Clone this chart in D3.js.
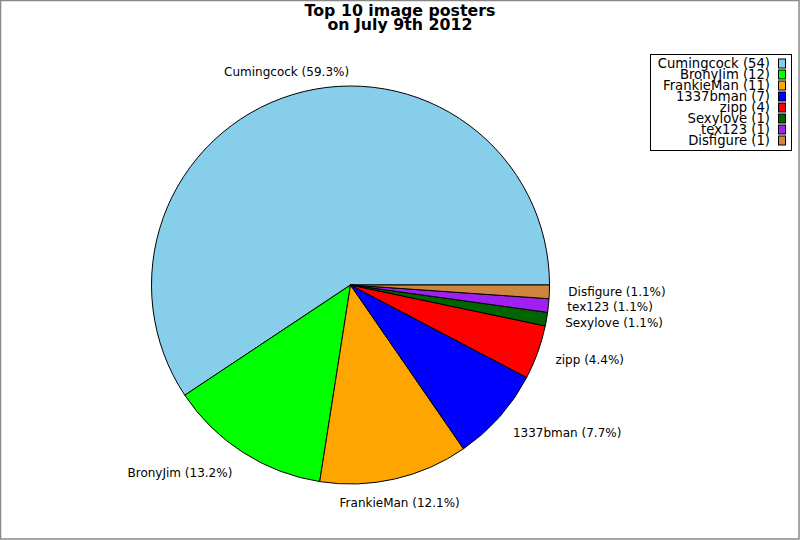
<!DOCTYPE html>
<html>
<head>
<meta charset="utf-8">
<script src="https://cdn.jsdelivr.net/npm/d3@7"></script>
<style>
  body { margin: 0; background: #fff; }
  text { font-family: "DejaVu Sans", sans-serif; }
</style>
</head>
<body>
<div id="chart"></div>
<script>
// chart data
var titleLines = ["Top 10 image posters", "on July 9th 2012"];
var names = ["Cumingcock", "BronyJim", "FrankieMan", "1337bman", "zipp", "Sexylove", "tex123", "Disfigure"];
var counts = [54, 12, 11, 7, 4, 1, 1, 1];
var colors = ["#87ceeb", "#00ff00", "#ffa500", "#0000ff", "#ff0000", "#006400", "#a020f0", "#cd853f"];

var W = 800, H = 540;
var cx = 350.5, cy = 285, radius = 199;

var svg = d3.select("#chart")
    .append("svg")
    .attr("width", W)
    .attr("height", H);

// frame
svg.append("rect")
    .attr("x", 0.5).attr("y", 0.5)
    .attr("width", W - 1.5).attr("height", H - 1.5)
    .attr("fill", "#fff")
    .attr("stroke", "#888")
    .attr("stroke-width", 1.5);

// title
svg.append("text")
    .attr("x", 400)
    .attr("text-anchor", "middle")
    .attr("font-weight", "bold")
    .attr("font-size", 15.8)
    .selectAll("tspan")
    .data(titleLines)
    .enter().append("tspan")
    .attr("x", 400)
    .attr("y", function(d, i) { return 16 + i * 13.5; })
    .text(function(d) { return d; });

var data = names.map(function(n, i) { return {name: n, value: counts[i], color: colors[i]}; });
var total = d3.sum(counts);

// pie runs counter-clockwise starting at 3 o'clock
var pie = d3.pie()
    .sort(null)
    .value(function(d) { return d.value; })
    .startAngle(Math.PI / 2)
    .endAngle(Math.PI / 2 - 2 * Math.PI);

var arc = d3.arc().innerRadius(0).outerRadius(radius);

var g = svg.append("g")
    .attr("transform", "translate(" + cx + "," + cy + ")");

var arcs = pie(data);

g.selectAll("path")
    .data(arcs)
    .enter().append("path")
    .attr("d", arc)
    .attr("fill", function(d) { return d.data.color; })
    .attr("stroke", "#000")
    .attr("stroke-width", 1);

// slice labels
var labelR = 221;
g.selectAll("text.lbl")
    .data(arcs)
    .enter().append("text")
    .attr("class", "lbl")
    .attr("font-size", 12)
    .attr("dominant-baseline", "central")
    .each(function(d) {
        let a = (d.startAngle + d.endAngle) / 2;
        let sx = Math.sin(a), sy = -Math.cos(a);
        let anchor = Math.abs(sx) < 0.4 ? "middle" : (sx > 0 ? "start" : "end");
        let dx = anchor == "start" ? -3 : (anchor == "end" ? 1 : 0);
        d3.select(this)
            .attr("x", sx * labelR + dx)
            .attr("y", sy * labelR - 1 + 3.5 * Math.max(sy, 0))
            .attr("text-anchor", anchor)
            .text(d.data.name + " (" + (100 * d.data.value / total).toFixed(1) + "%)");
    });

// legend
var lg = svg.append("g");
lg.append("rect")
    .attr("x", 650.5).attr("y", 54.5)
    .attr("width", 141).attr("height", 96)
    .attr("fill", "#fff")
    .attr("stroke", "#000");

var rowY = d3.scaleLinear().domain([0, 7]).range([63.5, 140.5]);

lg.selectAll("text")
    .data(data)
    .enter().append("text")
    .attr("x", 770)
    .attr("y", function(d, i) { return rowY(i); })
    .attr("text-anchor", "end")
    .attr("dominant-baseline", "central")
    .attr("font-size", 13.2)
    .text(function(d) { return d.name + " (" + d.value + ")"; });

lg.selectAll("rect.sw")
    .data(data)
    .enter().append("rect")
    .attr("class", "sw")
    .attr("x", 778.5)
    .attr("y", function(d, i) { return rowY(i) - 4.5; })
    .attr("width", 7).attr("height", 9)
    .attr("fill", function(d) { return d.color; })
    .attr("stroke", "#000");
</script>
</body>
</html>
